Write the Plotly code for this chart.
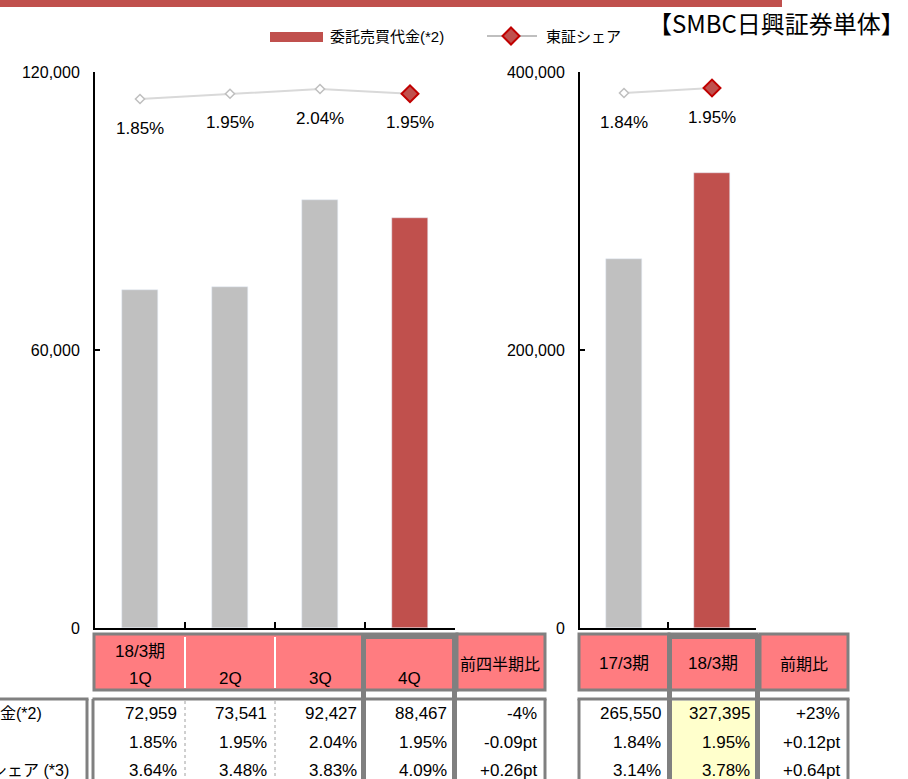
import plotly.graph_objects as go

W, H = 908, 779
def X(p): return p / W
def Y(p): return 1 - p / H

# ---------------- data ----------------
quarters = ["1Q", "2Q", "3Q", "4Q"]
period_label = "18/3期"
trading_q = [72959, 73541, 92427, 88467]
tse_share_q = [1.85, 1.95, 2.04, 1.95]
share3_q = [3.64, 3.48, 3.83, 4.09]
qoq_header = "前四半期比"
qoq_values = ["-4%", "-0.09pt", "+0.26pt"]

years = ["17/3期", "18/3期"]
trading_y = [265550, 327395]
tse_share_y = [1.84, 1.95]
share3_y = [3.14, 3.78]
yoy_header = "前期比"
yoy_values = ["+23%", "+0.12pt", "+0.64pt"]

row_labels = ["委託売買代金(*2)", "東証シェア", "個人シェア (*3)"]
legend_labels = ["委託売買代金(*2)", "東証シェア"]
title_text = "【SMBC日興証券単体】"
left_ticks = [0, 60000, 120000]
right_ticks = [0, 200000, 400000]

# ---------------- styles ----------------
GRAY_BAR = "#C0C0C0"
RED = "#C0504D"
RED_EDGE = "#C00000"
LINE = "#D9D9D9"
OPEN_EDGE = "#BFBFBF"
PINK = "#FF7C80"
BORDER = "#808080"
YELLOW = "#FFFFCC"
FONT = "Liberation Sans, Arial, Noto Sans CJK JP"
CJK = "Noto Sans CJK JP"

fig = go.Figure()

def bar_colors(n):
    return [GRAY_BAR] * (n - 1) + [RED]

def marker_style(n, big, small):
    return dict(
        symbol="diamond", opacity=1,
        size=[small] * (n - 1) + [big],
        color=["white"] * (n - 1) + [RED],
        line=dict(color=[OPEN_EDGE] * (n - 1) + [RED_EDGE], width=[1.5] * (n - 1) + [2]),
    )

fig.add_trace(go.Bar(x=quarters, y=trading_q, marker_color=bar_colors(len(quarters)),
                     width=0.41, xaxis="x", yaxis="y", showlegend=False, hoverinfo="skip"))
fig.add_trace(go.Scatter(x=quarters, y=tse_share_q, mode="lines+markers",
                         line=dict(color=LINE, width=2), marker=marker_style(len(quarters), 13, 7),
                         xaxis="x", yaxis="y2", showlegend=False, hoverinfo="skip"))
fig.add_trace(go.Bar(x=years, y=trading_y, marker_color=bar_colors(len(years)),
                     width=0.42, xaxis="x2", yaxis="y3", showlegend=False, hoverinfo="skip"))
fig.add_trace(go.Scatter(x=years, y=tse_share_y, mode="lines+markers",
                         line=dict(color=LINE, width=2), marker=marker_style(len(years), 13, 7),
                         xaxis="x2", yaxis="y4", showlegend=False, hoverinfo="skip"))

annotations = []
for q, s in zip(quarters, tse_share_q):
    annotations.append(dict(x=q, y=s, xref="x", yref="y2", text=f"{s:.2f}%", showarrow=False,
                            xanchor="center", yanchor="middle",
                            yshift=-29, font=dict(size=17, family=FONT, color="black")))
for q, s in zip(years, tse_share_y):
    annotations.append(dict(x=q, y=s, xref="x2", yref="y4", text=f"{s:.2f}%", showarrow=False,
                            xanchor="center", yanchor="middle",
                            yshift=-29, font=dict(size=17, family=FONT, color="black")))

plot_top, plot_bot = 72, 628
xax_common = dict(type="category", showline=True, linecolor="black", linewidth=2,
                  ticks="inside", tickson="boundaries", ticklen=6, tickwidth=2, tickcolor="black",
                  showticklabels=False, showgrid=False, zeroline=False, fixedrange=True, automargin=False)
yax_common = dict(showline=True, linecolor="black", linewidth=2, ticks="inside", ticklen=5,
                  tickwidth=2, tickcolor="black", showgrid=False, zeroline=False, automargin=False,
                  tickformat=",", tickfont=dict(size=16, family=FONT, color="black"),
                  ticklabelstandoff=10, domain=[Y(plot_bot), Y(plot_top)])

fig.update_layout(
    width=W, height=H, autosize=False,
    margin=dict(l=0, r=0, t=0, b=0, pad=0, autoexpand=False),
    paper_bgcolor="white", plot_bgcolor="white", bargap=0,
    xaxis=dict(domain=[X(95), X(455)], anchor="y", range=[-0.5, 3.5], **xax_common),
    yaxis=dict(anchor="x", range=[0, 120000], tickvals=left_ticks, **yax_common),
    yaxis2=dict(overlaying="y", range=[-8.2, 2.363], visible=False),
    xaxis2=dict(domain=[X(580), X(756)], anchor="y3", range=[-0.5, 1.5], **xax_common),
    yaxis3=dict(anchor="x2", range=[0, 400000], tickvals=right_ticks, **yax_common),
    yaxis4=dict(overlaying="y3", range=[-9.93, 2.302], visible=False, anchor="x2"),
)

shapes = []
def rect(x0, y0, x1, y1, fill=None, lc=None, lw=0):
    shapes.append(dict(type="rect", xref="paper", yref="paper", x0=X(x0), x1=X(x1), y0=Y(y1), y1=Y(y0),
                       fillcolor=fill if fill else "rgba(0,0,0,0)",
                       line=dict(color=lc if lc else "rgba(0,0,0,0)", width=lw)))
def line(x0, y0, x1, y1, color=BORDER, width=3, dash="solid"):
    shapes.append(dict(type="line", xref="paper", yref="paper", x0=X(x0), x1=X(x1), y0=Y(y0), y1=Y(y1),
                       line=dict(color=color, width=width, dash=dash)))

def text(xp, yp, txt, size, family=FONT, xanchor="center"):
    annotations.append(dict(x=X(xp), y=Y(yp), xref="paper", yref="paper", xanchor=xanchor, yanchor="middle",
                            text=txt, showarrow=False, font=dict(size=size, family=family, color="black")))

# top banner
rect(0, 0, 782, 7, fill=RED)

# legend
rect(270, 32, 323, 42, fill=RED)
line(487, 36, 537, 36, color="#BFBFBF", width=2)
cx, cy, r = 511, 36, 8.5
shapes.append(dict(type="path", xref="paper", yref="paper",
                   path=f"M {X(cx)},{Y(cy - r)} L {X(cx + r)},{Y(cy)} L {X(cx)},{Y(cy + r)} L {X(cx - r)},{Y(cy)} Z",
                   fillcolor=RED, line=dict(color=RED_EDGE, width=2)))
text(328, 37, legend_labels[0], 15, xanchor="left")
text(544, 37, legend_labels[1], 15, xanchor="left")
text(907, 22, title_text, 24, family=CJK, xanchor="right")

# ---------- table (left, quarterly) ----------
BOT = 782
rect(94, 634, 457, 690, fill=PINK, lc=BORDER, lw=3)
line(185, 637, 185, 688, color="white", width=2)
line(275, 637, 275, 688, color="white", width=2)
rect(457, 634, 545, 690, fill=PINK, lc=BORDER, lw=3)
line(92.5, 699, 457, 699)
line(93, 699, 93, BOT)
line(185, 701, 185, BOT, color="#A0A0A0", width=1, dash="dot")
line(275, 701, 275, BOT, color="#A0A0A0", width=1, dash="dot")
line(457, 699, 546.5, 699)
line(545, 699, 545, BOT)
line(0, 699, 88.5, 699)
line(87, 699, 87, BOT)
line(361, 636.5, 457, 636.5, width=5)
line(363.5, 634, 363.5, BOT, width=5)
line(454.5, 634, 454.5, BOT, width=5)

# ---------- table (right, annual) ----------
rect(579, 634, 669, 690, fill=PINK, lc=BORDER, lw=3)
rect(669, 634, 757, 690, fill=PINK, lc=BORDER, lw=3)
rect(760, 634, 848, 690, fill=PINK, lc=BORDER, lw=3)
rect(672, 700.5, 755, BOT, fill=YELLOW)
line(577.5, 699, 849.5, 699)
line(579, 699, 579, BOT)
line(848, 699, 848, BOT)
line(667, 636.5, 760, 636.5, width=5)
line(669.5, 634, 669.5, BOT, width=5)
line(757.5, 634, 757.5, BOT, width=5)

# header texts
q_centers = [140, 230, 320, 409]
text(q_centers[0], 651, period_label, 17)
for c, q in zip(q_centers, quarters):
    text(c, 678, q, 17)
text(500, 663, qoq_header, 16, family=CJK)
y_centers = [624, 713]
for c, yv in zip(y_centers, years):
    text(c, 663, yv, 17)
text(804, 663, yoy_header, 16, family=CJK)

# data texts
row_y = [713, 742, 770]
def cell(xr, yc, txt):
    text(xr, yc, txt, 17, xanchor="right")

q_rights = [179, 269, 359, 449]
for i, xr in enumerate(q_rights):
    cell(xr, row_y[0], f"{trading_q[i]:,}")
    cell(xr, row_y[1], f"{tse_share_q[i]:.2f}%")
    cell(xr, row_y[2], f"{share3_q[i]:.2f}%")
for j, v in enumerate(qoq_values):
    cell(539, row_y[j], v)
y_rights = [663, 752]
for i, xr in enumerate(y_rights):
    cell(xr, row_y[0], f"{trading_y[i]:,}")
    cell(xr, row_y[1], f"{tse_share_y[i]:.2f}%")
    cell(xr, row_y[2], f"{share3_y[i]:.2f}%")
for j, v in enumerate(yoy_values):
    cell(842, row_y[j], v)

label_right = [44, -2, 71]
for j, lab in enumerate(row_labels):
    text(label_right[j], row_y[j], lab, 16, xanchor="right")

fig.update_layout(shapes=shapes, annotations=annotations)

fix_page = (
    "document.documentElement.style.margin='0';document.documentElement.style.padding='0';"
    "document.documentElement.style.overflow='hidden';"
    "document.body.style.margin='0';document.body.style.padding='0';document.body.style.overflow='hidden';"
    "var gd=document.querySelector('.plotly-graph-div');"
    "gd.style.position='fixed';gd.style.top='0px';gd.style.left='0px';"
)
fig.write_html("out.html", config={"responsive": False, "displayModeBar": False},
               post_script=fix_page)
